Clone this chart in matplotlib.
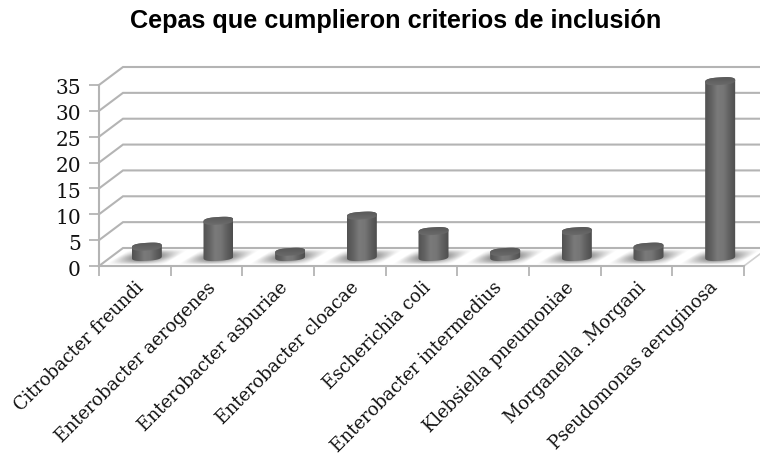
"""Cepas que cumplieron criterios de inclusion - fake 3D cylinder chart."""

import matplotlib
import matplotlib.pyplot as plt
import numpy as np
from matplotlib.colors import LinearSegmentedColormap
from matplotlib.path import Path
from matplotlib.patches import PathPatch
from matplotlib.transforms import Affine2D, ScaledTranslation

matplotlib.use("Agg")

TITLE = "Cepas que cumplieron criterios de inclusión"
strains = [
    "Citrobacter freundi",
    "Enterobacter aerogenes",
    "Enterobacter asburiae",
    "Enterobacter cloacae",
    "Escherichia coli",
    "Enterobacter intermedius",
    "Klebsiella pneumoniae",
    "Morganella .Morgani",
    "Pseudomonas aeruginosa",
]
counts = [2, 7, 1, 8, 5, 1, 5, 2, 34]
y_ticks = [0, 5, 10, 15, 20, 25, 30, 35]

W, H = 760, 462
X0, X1, Y0, Y1 = 99, 744, 266, 85  # front plane in pixels
GRID = "#b4b4b4"


def rounded(t, power=0.75):
    """Squared-off ellipse coordinates, the caps have flat shoulders."""
    c, s = np.cos(t), np.sin(t)
    return np.sign(c) * np.abs(c) ** power, np.sign(s) * np.abs(s) ** power


def clipped_gradient(ax, outline, values, cmap, extent, zorder):
    """Draw a gradient image cut to a closed outline."""
    clip = PathPatch(Path(np.vstack([outline, outline[0]])), transform=ax.transData,
                     fc="none", ec="none")
    ax.add_patch(clip)
    im = ax.imshow(values, cmap=cmap, aspect="auto", extent=extent, zorder=zorder,
                   interpolation="bilinear")
    im.set_clip_path(clip)
    im.set_clip_box(ax.figure.bbox)  # the tallest bar pokes above the axes


fig = plt.figure(figsize=(W / 100, H / 100), dpi=100)
ax = fig.add_axes([X0 / W, (H - Y0) / H, (X1 - X0) / W, (Y0 - Y1) / H])
ax.patch.set_alpha(0)

n = len(strains)
ymax = y_ticks[-1]
ux = n / (X1 - X0)  # data units per pixel
uy = ymax / (Y0 - Y1)
dx, dy = 24 * ux, 18 * uy  # depth of the box

# back wall + side wall grid lines
for t in y_ticks:
    ax.plot([0, dx, n + dx * 2], [t, t + dy, t + dy], color=GRID, lw=1.5,
            clip_on=False, zorder=1, solid_joinstyle="miter")
ax.plot([n, n + dx], [0, dy], color="#d0d0d0", lw=1.2, clip_on=False, zorder=1)

body_cmap = LinearSegmentedColormap.from_list(
    "cyl", ["#525252", "#626262", "#7a7a7a", "#767676", "#606060", "#4e4e4e"]
)
cap_cmap = LinearSegmentedColormap.from_list("cap", ["#565656", "#6c6c6c"])

# soft shadow sprite, sheared per bar below
uu, ww = np.meshgrid(np.linspace(-1, 1, 64), np.linspace(-1, 1, 24))
sprite = np.zeros(uu.shape + (4,))
sprite[..., :3] = 0.35
sprite[..., 3] = np.clip(1 - np.abs(uu) ** 1.5, 0, 1) * np.clip(1 - np.abs(ww) ** 1.6, 0, 1) * 0.9

for i, v in enumerate(counts):
    cx = i + 0.5 + 12 * ux
    base = 9 * uy
    a = 15 * ux
    b = 3.8 * uy
    tilt = 0.9 * uy

    # shadow on the floor, sheared with the depth of the box
    k = (13 * ux) / (8 * uy)
    shear = Affine2D.from_values(1, 0, k, 1, -k * base, 0)
    ax.imshow(sprite, aspect="auto", zorder=2, clip_on=False, interpolation="bilinear",
              extent=[cx - 30 * ux, cx + 30 * ux, base - 8 * uy, base + 8 * uy],
              transform=shear + ax.transData)

    # cylinder body: gradient image clipped to the outline
    t = np.linspace(0, np.pi, 40)
    top = base + v
    ex, ey = rounded(t)
    bottom_x = cx + a * ex[::-1]
    bottom_y = base - b * ey[::-1] + tilt * ex[::-1]
    top_x = cx + a * ex
    top_y = top + b * ey + tilt * ex
    outline = np.column_stack([np.r_[bottom_x, top_x], np.r_[bottom_y, top_y]])
    clipped_gradient(ax, outline, np.linspace(0, 1, 64)[None, :], body_cmap,
                     [cx - a, cx + a, base - b - tilt, top + b + tilt], 3)

    # top cap, darker at the far edge
    tt = np.linspace(0, 2 * np.pi, 80)
    cap_x, cap_y = rounded(tt)
    cap = np.column_stack([cx + a * cap_x, top + b * cap_y + tilt * cap_x])
    clipped_gradient(ax, cap, np.linspace(0, 1, 16)[:, None], cap_cmap,
                     [cx - a, cx + a, top - b - tilt, top + b + tilt], 4)

ax.set_xlim(0, n)
ax.set_ylim(0, ymax)

ax.set_yticks(y_ticks)
ax.set_yticklabels([str(t) for t in y_ticks], family="DejaVu Serif", fontsize=14.5, color="#111111")
ax.set_xticks(np.arange(n + 1))
ax.set_xticklabels([])
ax.set_xticks(np.arange(n) + 0.5, minor=True)
ax.set_xticklabels(strains, minor=True, rotation=45, ha="right", va="top",
                   rotation_mode="anchor", family="DejaVu Serif", fontsize=12.9, color="#111111")
ax.tick_params(axis="both", which="major", color=GRID, width=1.3, length=7)
ax.tick_params(axis="y", which="major", pad=6)
ax.tick_params(axis="x", which="minor", length=0, pad=9)
for label in ax.get_yticklabels():
    label.set_transform(label.get_transform() + ScaledTranslation(0, -2 / 100, fig.dpi_scale_trans))

for name in ("top", "right"):
    ax.spines[name].set_visible(False)
for name in ("left", "bottom"):
    ax.spines[name].set_color(GRID)
    ax.spines[name].set_linewidth(1.5)

fig.text(396 / W, 1 - 21 / H, TITLE, ha="center", va="center", family="Liberation Sans",
         fontweight="bold", fontsize=18.2, color="black")

fig.savefig("out.png", dpi=100)
plt.close(fig)
